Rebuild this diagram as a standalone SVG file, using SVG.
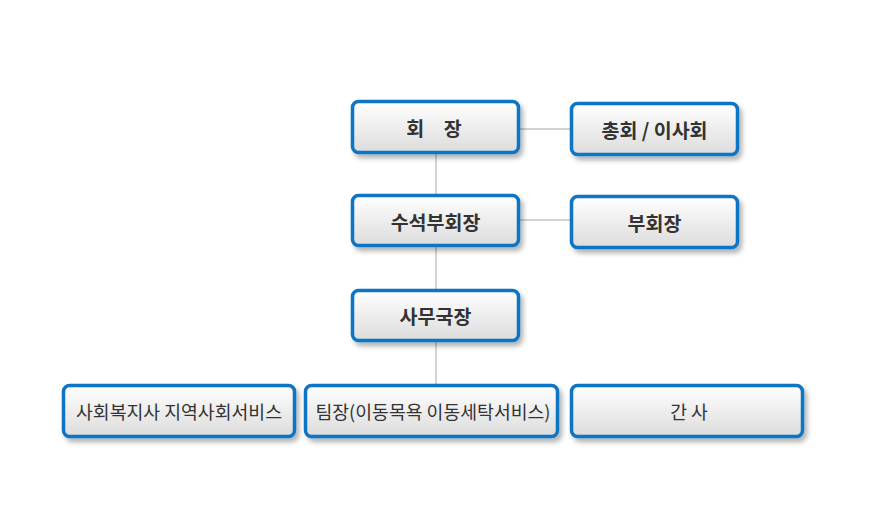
<svg xmlns="http://www.w3.org/2000/svg" width="870" height="526" viewBox="0 0 870 526">
<defs>
<linearGradient id="g" x1="0" y1="0" x2="0" y2="1">
<stop offset="0" stop-color="#ffffff"/>
<stop offset="1" stop-color="#dcdcdc"/>
</linearGradient>
<filter id="sh" x="-10%" y="-20%" width="125%" height="160%">
<feGaussianBlur in="SourceAlpha" stdDeviation="2.5"/>
<feOffset dx="3" dy="4" result="b"/>
<feComponentTransfer><feFuncA type="linear" slope="0.3"/></feComponentTransfer>
<feMerge><feMergeNode/><feMergeNode in="SourceGraphic"/></feMerge>
</filter>
</defs>
<style>
.box{fill:url(#g);stroke:#0b74c4;stroke-width:3.5;filter:url(#sh)}
.t{font-family:"Noto Sans CJK KR","Noto Sans",sans-serif;fill:#333;text-anchor:middle;dominant-baseline:central}
.b{font-size:19.5px;font-weight:bold}
.r{font-size:18.3px}
.c{stroke:#c4c4c4;stroke-width:1.5;fill:none}
</style>
<g id="connectors">
<line class="c" x1="436" y1="153" x2="436" y2="386"/>
<line class="c" x1="519" y1="129" x2="571" y2="129"/>
<line class="c" x1="519" y1="220" x2="571" y2="220"/>
</g>
<g id="n1"><rect class="box" x="352.5" y="101.5" width="166" height="51" rx="6"/><text class="t b" x="434" y="127">회　장</text></g>
<g id="n2"><rect class="box" x="571.5" y="103.5" width="166" height="51" rx="6"/><text class="t b" x="654.5" y="129">총회 / 이사회</text></g>
<g id="n3"><rect class="box" x="352.5" y="195.5" width="166" height="50" rx="6"/><text class="t b" x="435.5" y="221">수석부회장</text></g>
<g id="n4"><rect class="box" x="571.5" y="196.5" width="166" height="51" rx="6"/><text class="t b" x="654.5" y="222">부회장</text></g>
<g id="n5"><rect class="box" x="352.5" y="290.5" width="166" height="50" rx="6"/><text class="t b" x="435.5" y="315">사무국장</text></g>
<g id="n6"><rect class="box" x="63.5" y="385.5" width="231" height="51" rx="6"/><text class="t r" x="179" y="411">사회복지사 지역사회서비스</text></g>
<g id="n7"><rect class="box" x="305.5" y="385.5" width="252" height="51" rx="6"/><text class="t r" x="433" y="411">팀장(이동목욕 이동세탁서비스)</text></g>
<g id="n8"><rect class="box" x="571.5" y="385.5" width="231" height="51" rx="6"/><text class="t r" x="689" y="411">간 사</text></g>
</svg>
